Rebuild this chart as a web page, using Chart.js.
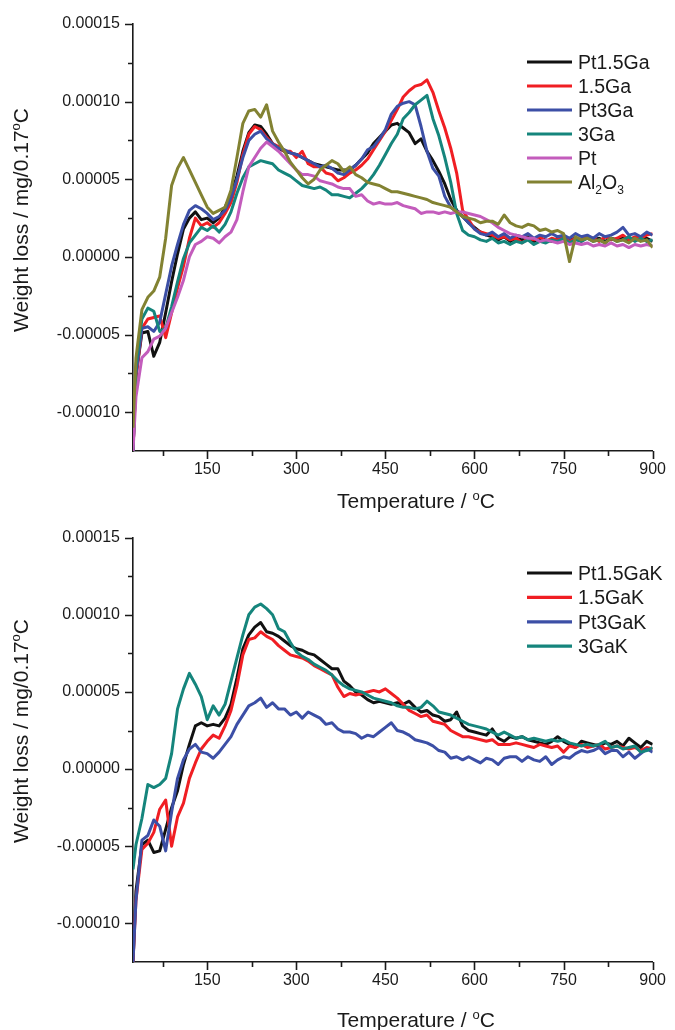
<!DOCTYPE html>
<html>
<head>
<meta charset="utf-8">
<script src="https://cdn.jsdelivr.net/npm/chart.js@4.4.1/dist/chart.umd.min.js"></script>
<style>
  html, body { margin: 0; padding: 0; background: #fff; }
  canvas { display: block; }
</style>
</head>
<body>
<canvas id="dtg-plain" width="675" height="515"></canvas>
<canvas id="dtg-k" width="675" height="515"></canvas>
<script>
// DTG curves, weight loss in units of 1e-5 mg/0.17 oC
const tempC = [
  25, 30, 40, 50, 60, 70, 80, 90,
  100, 110, 120, 130, 140, 150, 160, 170, 180, 190,
  200, 210, 220, 230, 240, 250, 260, 270, 280, 290,
  300, 310, 320, 330, 340, 350, 360, 370, 380, 390,
  400, 410, 420, 430, 440, 450, 460, 470, 480, 490,
  500, 510, 520, 530, 540, 550, 560, 570, 580, 590,
  600, 610, 620, 630, 640, 650, 660, 670, 680, 690,
  700, 710, 720, 730, 740, 750, 760, 770, 780, 790,
  800, 810, 820, 830, 840, 850, 860, 870, 880, 890,
  900
];

// catalysts without K
const pt15Ga = [
  -12.5, -7.6, -4.9, -4.8, -6.4, -5.5, -3.6, -1.6,
  0.2, 1.8, 2.5, 2.9, 2.4, 2.5, 2.2, 2.5, 3.2, 4.0,
  5.2, 6.8, 8.0, 8.5, 8.4, 7.9, 7.3, 7.0, 6.8, 6.7,
  6.6, 6.4, 6.2, 6.0, 5.9, 5.8, 5.7, 5.6, 5.6, 5.6,
  5.9, 6.3, 6.7, 7.3, 7.7, 8.1, 8.5, 8.6, 8.3, 8.0,
  7.3, 7.6, 6.8, 6.2, 5.5, 4.7, 3.7, 3.0, 2.6, 2.2,
  1.9, 1.6, 1.4, 1.3, 1.1, 1.3, 1.0, 1.2, 1.1, 1.3,
  1.0, 1.2, 1.1, 1.0, 1.2, 1.3, 1.1, 1.2, 1.0, 1.3,
  1.1, 1.2, 1.0, 1.2, 1.1, 1.3, 1.0, 1.2, 1.1, 1.2,
  1.0
];
const ga15 = [
  -12.5, -7.8, -4.6, -4.0, -3.9, -3.8, -5.2, -3.6,
  -2.0, -0.6, 1.2, 2.5, 2.0, 2.2, 1.9, 2.2, 2.8, 3.5,
  4.8, 6.6, 7.9, 8.4, 8.2, 7.7, 7.3, 7.1, 6.8, 6.8,
  6.4, 6.8, 6.0, 5.8, 5.8, 5.4, 5.3, 4.9, 5.1, 5.4,
  5.6, 5.9, 6.3, 6.9, 7.5, 8.1, 8.8, 9.5, 10.3, 10.7,
  11.0, 11.1, 11.4, 10.6, 9.4, 8.3, 7.0, 5.4, 3.0, 2.4,
  1.8, 1.6, 1.5, 1.4, 1.2, 1.3, 1.1, 1.2, 0.9, 1.2,
  1.1, 1.3, 1.0, 1.2, 1.1, 1.3, 1.0, 1.2, 1.1, 1.3,
  1.2, 1.0, 1.3, 1.1, 1.2, 1.4, 1.1, 1.3, 1.2, 1.4,
  1.5
];
const pt3Ga = [
  -12.5, -7.5, -4.6, -4.5, -4.8, -4.2, -2.4, -0.6,
  0.8, 2.1, 3.0, 3.3, 3.1, 2.8, 2.4, 2.6, 3.0, 3.8,
  5.0, 6.4, 7.5, 7.9, 8.1, 7.6, 7.3, 7.0, 6.9, 6.7,
  6.6, 6.4, 6.2, 6.0, 5.8, 5.9, 5.7, 5.4, 5.3, 5.6,
  5.9, 6.3, 6.9, 7.1, 7.6, 8.2, 9.2, 9.7, 9.9, 10.0,
  9.8, 8.4, 6.8, 5.7, 5.2, 3.9, 3.2, 2.9, 2.6, 2.2,
  1.8, 1.5, 1.4, 1.6, 1.3, 1.5, 1.2, 1.4, 1.3, 1.5,
  1.2, 1.4, 1.3, 1.5, 1.3, 1.4, 1.2, 1.5, 1.3, 1.4,
  1.2, 1.5, 1.3, 1.4, 1.6, 1.9, 1.4, 1.5, 1.3, 1.6,
  1.4
];
const ga3 = [
  -12.5, -7.0, -4.0, -3.3, -3.5, -4.8, -4.6, -3.2,
  -1.6, -0.1, 0.9, 1.4, 1.9, 1.7, 2.0, 1.6, 2.1, 2.9,
  4.1, 5.1, 5.8, 6.0, 6.2, 6.1, 6.0, 5.6, 5.4, 5.2,
  4.9, 4.6, 4.5, 4.4, 4.5, 4.3, 4.0, 4.0, 3.9, 3.8,
  4.1, 4.4, 4.8, 5.3, 5.9, 6.6, 7.3, 7.9, 8.9, 9.3,
  9.8, 10.1, 10.4, 8.9, 7.8, 6.4, 4.8, 2.8, 1.7, 1.4,
  1.3, 1.1, 1.0, 1.2, 0.9, 1.0, 0.8, 1.0, 0.9, 1.1,
  0.8, 1.0, 0.9, 1.1, 1.0, 1.2, 0.9, 1.1, 1.0, 1.2,
  1.0, 1.1, 0.9, 1.2, 1.0, 1.1, 1.3, 1.0, 1.2, 1.0,
  1.1
];
const ptOnly = [
  -12.5, -9.0, -6.5, -6.1, -5.3, -5.1, -4.6, -3.6,
  -2.6, -1.5, 0.0, 0.8, 1.0, 1.3, 1.2, 0.9, 1.3, 1.6,
  2.4, 4.2, 5.8, 6.4, 7.0, 7.4, 7.1, 6.8, 6.4, 6.0,
  5.6, 5.3, 5.3, 5.2, 4.9, 4.8, 4.7, 4.5, 4.4, 4.4,
  3.9, 4.0, 3.6, 3.4, 3.5, 3.4, 3.4, 3.5, 3.3, 3.2,
  3.1, 2.8, 2.9, 2.9, 2.8, 2.9, 2.8, 2.9, 2.9, 2.8,
  2.7, 2.6, 2.4, 2.2, 1.9, 1.7, 1.5, 1.4, 1.3, 1.2,
  1.2, 1.0, 1.1, 1.0, 0.9, 1.0, 0.8, 0.9, 0.8, 0.9,
  0.7, 0.8, 0.7, 0.9, 0.7, 0.8, 0.6, 0.8, 0.7, 0.8,
  0.7
];
const al2o3 = [
  -11.0, -6.5, -3.4, -2.6, -2.2, -1.3, 1.2, 4.6,
  5.7, 6.4, 5.6, 4.8, 4.0, 3.2, 2.8, 3.0, 3.2, 4.3,
  6.4, 8.6, 9.4, 9.5, 9.0, 9.8, 8.1, 7.4, 6.8, 6.1,
  5.6, 5.1, 4.7, 5.0, 5.6, 5.9, 6.2, 6.0, 5.5, 5.8,
  5.3, 5.1, 4.8, 4.7, 4.6, 4.4, 4.2, 4.2, 4.1, 4.0,
  3.9, 3.8, 3.7, 3.5, 3.4, 3.3, 3.2, 2.9, 2.6, 2.5,
  2.4, 2.2, 2.3, 2.3, 2.1, 2.7, 2.2, 2.0, 1.9, 2.1,
  2.0, 1.7, 1.8, 1.6, 1.7, 1.5, -0.3, 1.3, 1.1, 1.2,
  1.0, 1.1, 0.9, 1.2, 1.0, 1.1, 0.9, 1.2, 1.0, 1.1,
  0.6
];

// K-promoted catalysts
const pt15GaK = [
  -12.5, -7.9, -4.9, -4.6, -5.4, -5.3, -3.9, -2.5,
  -1.4, 0.3, 1.6, 2.8, 3.0, 2.8, 2.9, 2.8, 3.3, 4.2,
  5.9, 7.8, 8.7, 9.2, 9.5, 8.9, 8.8, 8.6, 8.3, 8.0,
  7.8, 7.7, 7.5, 7.4, 7.1, 6.8, 6.5, 6.5, 5.7, 5.4,
  5.0, 4.8, 4.5, 4.3, 4.4, 4.3, 4.2, 4.3, 4.2, 4.4,
  4.0, 3.7, 3.8, 3.5, 3.4, 3.1, 3.2, 3.7, 2.8, 2.5,
  2.4, 2.3, 2.2, 2.6, 2.0, 1.8, 2.1, 2.0, 2.1, 1.9,
  1.8, 1.7, 1.6, 1.8, 2.1, 1.8, 1.6, 1.4, 1.8, 1.7,
  1.6, 1.5, 1.7, 1.6, 1.8, 1.5, 2.0, 1.7, 1.4, 1.8,
  1.6
];
const ga15K = [
  -12.5, -8.5, -5.2, -4.8, -4.1, -2.6, -2.0, -5.0,
  -3.1, -2.2, -0.6, 0.4, 1.3, 1.8, 2.2, 2.0, 2.8, 3.8,
  5.4, 7.4, 8.4, 8.5, 8.9, 8.6, 8.4, 8.0, 7.7, 7.4,
  7.3, 7.2, 7.0, 6.7, 6.5, 6.3, 6.1, 5.3, 4.7, 4.9,
  4.8, 4.9, 5.0, 5.1, 5.0, 5.2, 4.9, 4.6, 4.2, 3.8,
  3.6, 3.4, 3.5, 3.1, 3.0, 2.9, 2.5, 2.3, 2.1, 2.1,
  2.0, 1.9, 1.8, 1.9, 1.6, 1.6, 1.6, 1.7, 1.6, 1.5,
  1.4, 1.6, 1.5, 1.4, 1.5, 1.1, 1.5, 1.4, 1.6, 1.4,
  1.5, 1.6, 1.3, 1.4, 1.5, 1.4, 1.3, 1.4, 1.2, 1.4,
  1.3
];
const pt3GaK = [
  -12.5, -8.5, -4.6, -4.3, -3.3, -3.7, -5.3, -2.8,
  -0.6, 0.6, 1.3, 1.6, 1.1, 1.0, 0.7, 1.1, 1.6, 2.1,
  2.9, 3.5, 4.1, 4.3, 4.6, 4.0, 4.3, 3.9, 3.9, 3.5,
  3.7, 3.3, 3.7, 3.5, 3.3, 2.9, 3.0, 2.6, 2.4, 2.4,
  2.3, 2.0, 2.2, 2.1, 2.4, 2.7, 3.0, 2.5, 2.4, 2.2,
  1.9, 1.8, 1.7, 1.5, 1.2, 1.1, 0.7, 0.8, 0.6, 0.8,
  0.6, 0.4, 0.7, 0.6, 0.3, 0.7, 0.8, 0.8, 0.5, 0.8,
  0.6, 0.5, 0.8, 0.3, 0.6, 0.8, 0.7, 1.0, 1.2, 1.1,
  1.2, 1.4, 1.0, 1.2, 1.2, 0.8, 1.1, 0.7, 1.0, 1.3,
  1.1
];
const ga3K = [
  -6.5, -4.9, -3.2, -1.0, -1.2, -1.0, -0.6, 1.0,
  3.9, 5.2, 6.2, 5.5, 4.7, 3.2, 4.1, 3.5, 4.2, 5.7,
  7.2, 8.7, 10.0, 10.5, 10.7, 10.4, 10.0, 9.1, 8.9, 8.2,
  7.6, 7.3, 7.1, 6.8, 6.6, 6.4, 6.1, 5.7, 5.4, 5.2,
  5.1, 5.0, 4.8, 4.6, 4.5, 4.4, 4.3, 4.1, 4.0, 4.0,
  3.9, 4.0, 4.4, 4.1, 3.7, 3.6, 3.5, 3.3, 3.1, 2.9,
  2.8, 2.7, 2.6, 2.4, 2.2, 2.4, 2.2, 2.0, 2.1, 1.9,
  2.0, 1.9, 1.8, 1.9, 1.8, 1.9, 1.7, 1.6, 1.5, 1.6,
  1.5, 1.6, 1.8, 1.4, 1.5, 1.3, 1.4, 1.5, 1.1, 1.2,
  1.4
];

// axis ticks
const xMajor = [150, 300, 450, 600, 750, 900];
const xMinor = [75, 225, 375, 525, 675, 825];
const yMajor = [-10, -5, 0, 5, 10, 15];
const yMinor = [-7.5, -2.5, 2.5, 7.5, 12.5];

const FONT = '"Liberation Sans", Arial, Helvetica, sans-serif';
const INK = '#1a1a1a';

// "_x" = subscript char, "^x" = superscript char
function richParts(str) {
  const parts = [];
  for (let i = 0; i < str.length; i++) {
    const c = str[i];
    if (c === '_' || c === '^') {
      parts.push({ t: str[i + 1], sub: c === '_', sup: c === '^' });
      i++;
    } else {
      const last = parts[parts.length - 1];
      if (last && !last.sub && !last.sup) last.t += c;
      else parts.push({ t: c });
    }
  }
  return parts;
}

function richText(ctx, str, x, y, size, measureOnly) {
  let cx = x;
  richParts(str).forEach(p => {
    const small = p.sub || p.sup;
    ctx.font = (small ? Math.round(size * 0.6) : size) + 'px ' + FONT;
    const dy = p.sub ? size * 0.28 : p.sup ? -size * 0.4 : 0;
    if (!measureOnly) ctx.fillText(p.t, cx, y + dy);
    cx += ctx.measureText(p.t).width;
  });
  return cx - x;
}

// tick marks, axis titles and legend
const decorPlugin = {
  id: 'decor',
  afterDraw(chart, args, opts) {
    const ctx = chart.ctx;
    const xs = chart.scales.x, ys = chart.scales.y;
    const area = chart.chartArea;
    ctx.save();
    ctx.strokeStyle = INK;
    ctx.lineWidth = 1.6;
    ctx.beginPath();
    xMajor.concat(xMinor).forEach(v => {
      const px = Math.round(xs.getPixelForValue(v)) + 0.5;
      const len = xMajor.includes(v) ? 8 : 5;
      ctx.moveTo(px, area.bottom);
      ctx.lineTo(px, area.bottom + len);
    });
    yMajor.concat(yMinor).forEach(v => {
      const py = Math.round(ys.getPixelForValue(v)) + 0.5;
      const len = yMajor.includes(v) ? 8 : 5;
      ctx.moveTo(area.left, py);
      ctx.lineTo(area.left - len, py);
    });
    ctx.stroke();

    ctx.fillStyle = INK;
    ctx.textBaseline = 'alphabetic';
    ctx.textAlign = 'left';

    // x title
    const xt = 'Temperature / ^oC';
    const xw = richText(ctx, xt, 0, 0, 21, true);
    richText(ctx, xt, 416 - xw / 2, opts.xTitleBase, 21);

    // y title, rotated
    const yt = 'Weight loss / mg/0.17^oC';
    const yw = richText(ctx, yt, 0, 0, 21, true);
    ctx.save();
    ctx.translate(28, opts.yTitleMid);
    ctx.rotate(-Math.PI / 2);
    richText(ctx, yt, -yw / 2, 0, 21);
    ctx.restore();

    // legend
    chart.data.datasets.forEach((ds, i) => {
      const y = opts.legendTop + i * opts.legendStep;
      ctx.strokeStyle = ds.borderColor;
      ctx.lineWidth = 3.2;
      ctx.beginPath();
      ctx.moveTo(527, y);
      ctx.lineTo(572, y);
      ctx.stroke();
      ctx.fillStyle = INK;
      richText(ctx, ds.label, 578, y + 7, 19.5);
    });
    ctx.restore();
  }
};

function makeChart(id, labels, series, colors, box) {
  const datasets = series.map((vals, i) => ({
    label: labels[i],
    data: tempC.map((t, j) => ({ x: t, y: vals[j] })),
    borderColor: colors[i],
    backgroundColor: colors[i],
    borderWidth: 3,
    borderJoinStyle: 'round',
    pointRadius: 0,
    tension: 0,
    fill: false,
    order: -i
  }));
  const tickFont = { family: FONT, size: 16 };
  return new Chart(document.getElementById(id), {
    type: 'line',
    data: { datasets },
    plugins: [decorPlugin],
    options: {
      responsive: false,
      animation: false,
      layout: { padding: { left: 0, right: 16, top: box.top, bottom: 0 } },
      plugins: {
        legend: { display: false },
        tooltip: { enabled: false },
        decor: box
      },
      scales: {
        x: {
          type: 'linear',
          min: 25,
          max: 900,
          grid: { display: false, drawTicks: false },
          border: { display: true, color: INK, width: 1.6 },
          afterBuildTicks: s => { s.ticks = xMajor.map(v => ({ value: v })); },
          afterFit: s => { s.height = 515 - box.bottom; },
          ticks: {
            autoSkip: false,
            maxRotation: 0,
            padding: 9,
            color: INK,
            font: tickFont,
            callback: v => String(v)
          }
        },
        y: {
          type: 'linear',
          min: -12.5,
          max: 15,
          grid: { display: false, drawTicks: false },
          border: { display: true, color: INK, width: 1.6 },
          afterBuildTicks: s => { s.ticks = yMajor.map(v => ({ value: v })); },
          afterFit: s => { s.width = 133; },
          ticks: {
            autoSkip: false,
            padding: 13,
            color: INK,
            font: tickFont,
            callback: v => (v / 1e5).toFixed(5)
          }
        }
      }
    }
  });
}

makeChart('dtg-plain',
  ['Pt1.5Ga', '1.5Ga', 'Pt3Ga', '3Ga', 'Pt', 'Al_2O_3'],
  [pt15Ga, ga15, pt3Ga, ga3, ptOnly, al2o3],
  ['#111111', '#f01e23', '#3c4fa6', '#15857c', '#c35cbc', '#828232'],
  { top: 24, bottom: 451, xTitleBase: 508, yTitleMid: 220, legendTop: 62, legendStep: 24 });

makeChart('dtg-k',
  ['Pt1.5GaK', '1.5GaK', 'Pt3GaK', '3GaK'],
  [pt15GaK, ga15K, pt3GaK, ga3K],
  ['#111111', '#f01e23', '#3c4fa6', '#15857c'],
  { top: 21, bottom: 447, xTitleBase: 512, yTitleMid: 216, legendTop: 58, legendStep: 24.4 });
</script>
</body>
</html>
